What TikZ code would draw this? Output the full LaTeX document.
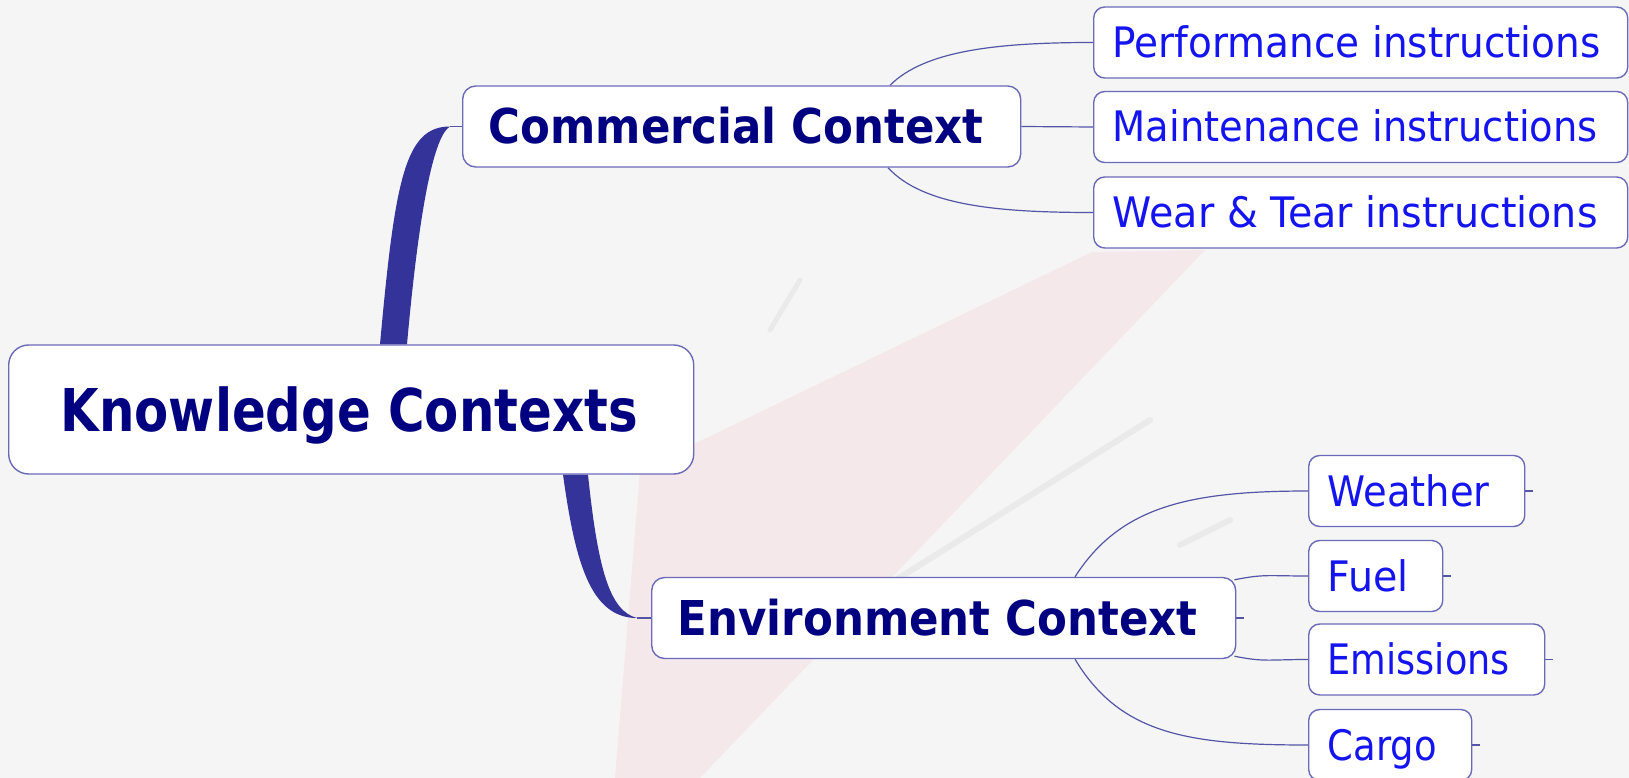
\documentclass[tikz,border=0pt]{standalone}
\usepackage{fontspec}
\setmainfont{DejaVu Sans}
\usepackage{graphicx}
\usetikzlibrary{backgrounds}
\definecolor{navytext}{HTML}{000080}
\definecolor{bluetext}{HTML}{1414F0}
\definecolor{bordc}{HTML}{6A6AB8}
\definecolor{branchc}{HTML}{333399}
\definecolor{linec}{HTML}{5555A8}
\definecolor{bgc}{HTML}{F5F5F5}
\definecolor{pinkc}{HTML}{F5E8EA}
\definecolor{greyc}{HTML}{EAEAEA}
\newlength\natw
\newcommand\fitw[2]{\settowidth{\natw}{#2}\scalebox{\fpeval{#1/(\the\natw)}}[1]{#2}}
\begin{document}
\begin{tikzpicture}[x=1pt,y=-1pt,
  anybox/.style={draw=bordc, line width=1.4pt, fill=white, inner sep=0pt, anchor=west, text depth=0pt},
  rootbox/.style={anybox, rounded corners=20pt, minimum height=129pt, text height=43pt, text=navytext, font=\bfseries\fontsize{59}{60}\selectfont},
  topicbox/.style={anybox, rounded corners=13pt, minimum height=81pt, text height=35pt, text=navytext, font=\bfseries\fontsize{48}{50}\selectfont},
  leafbox/.style={anybox, rounded corners=11pt, minimum height=71pt, text height=30pt, text=bluetext, font=\fontsize{42}{44}\selectfont},
  thinline/.style={draw=linec, line width=1.2pt},
  branch/.style={fill=branchc}]
\useasboundingbox (0,0) rectangle (1629,778);

% nodes
\node[rootbox] (k) at (8,409.5) {\hspace*{52pt}\fitw{577}{Knowledge Contexts}\hspace*{56pt}};
\node[topicbox] (c) at (462,126.5) {\hspace*{26pt}\fitw{495}{Commercial Context}\hspace*{37pt}};
\node[topicbox] (e) at (651,618) {\hspace*{26pt}\fitw{520}{Environment Context}\hspace*{38pt}};
\node[leafbox] (p) at (1093,42.5) {\hspace*{19pt}\fitw{488}{Performance instructions}\hspace*{27pt}};
\node[leafbox] (m) at (1093,127) {\hspace*{19pt}\fitw{485}{Maintenance instructions}\hspace*{30pt}};
\node[leafbox] (w) at (1093,212.5) {\hspace*{19pt}\fitw{485}{Wear \& Tear instructions}\hspace*{30pt}};
\node[leafbox] (we) at (1308,491) {\hspace*{19pt}\fitw{162}{Weather}\hspace*{35pt}};
\node[leafbox] (f) at (1308,576) {\hspace*{19pt}\fitw{81}{Fuel}\hspace*{34pt}};
\node[leafbox] (em) at (1308,659.5) {\hspace*{19pt}\fitw{182}{Emissions}\hspace*{35pt}};
\node[leafbox] (ca) at (1308,745) {\hspace*{19pt}\fitw{109}{Cargo}\hspace*{35pt}};

\begin{scope}[on background layer]
  \fill[bgc] (0,0) rectangle (1629,778);
  \fill[pinkc] (1205,250) -- (1092,252) -- (640,470) -- (615,778) -- (700,778) -- cycle;
  \draw[greyc, line width=6pt, line cap=round] (1150,420) -- (880,590);
  \draw[greyc, line width=6pt, line cap=round] (1230,520) -- (1180,545);
  \draw[greyc, line width=5pt, line cap=round] (800,280) -- (770,330);

  % thick branches
  \coordinate (b1) at ([xshift=-12pt]c.west);
  \coordinate (b2) at ([xshift=-14pt]e.west);
  \fill[branch] ([xshift=372pt]k.north west) .. controls +(15,-165) and +(-45,0) .. (b1)
     .. controls +(-15,8.5) and +(13,-145) .. ([xshift=399pt]k.north west) -- cycle;
  \draw[thinline] (b1) -- (c.west);
  \fill[branch] ([xshift=555pt]k.south west) .. controls +(12,86) and +(-47,0) .. (b2)
     .. controls +(-27,-7) and +(10,96) .. ([xshift=580pt]k.south west) -- cycle;
  \draw[thinline] (b2) -- (e.west);

  % commercial children
  \draw[thinline] ([xshift=428pt]c.north west) .. controls +(35,-35) and +(-95,0) .. (p.west);
  \draw[thinline] (c.east) -- (m.west);
  \draw[thinline] ([xshift=426pt]c.south west) .. controls +(35,38) and +(-95,0) .. (w.west);

  % environment children
  \draw[thinline] ([xshift=424pt]e.north west) .. controls +(45,-70) and +(-120,0) .. (we.west);
  \draw[thinline] ([xshift=-2pt,yshift=-3pt]e.north east) .. controls +(30,-6) and +(-40,0) .. (f.west);
  \draw[thinline] ([xshift=-2pt,yshift=3pt]e.south east) .. controls +(30,6) and +(-40,0) .. (em.west);
  \draw[thinline] ([xshift=424pt]e.south west) .. controls +(45,75) and +(-120,0) .. (ca.west);

  % small stubs
  \draw[thinline] (e.east) -- +(8,0);
  \draw[thinline] (we.east) -- +(8,0);
  \draw[thinline] (f.east) -- +(8,0);
  \draw[thinline] (em.east) -- +(8,0);
  \draw[thinline] (ca.east) -- +(8,0);
\end{scope}
\end{tikzpicture}
\end{document}
